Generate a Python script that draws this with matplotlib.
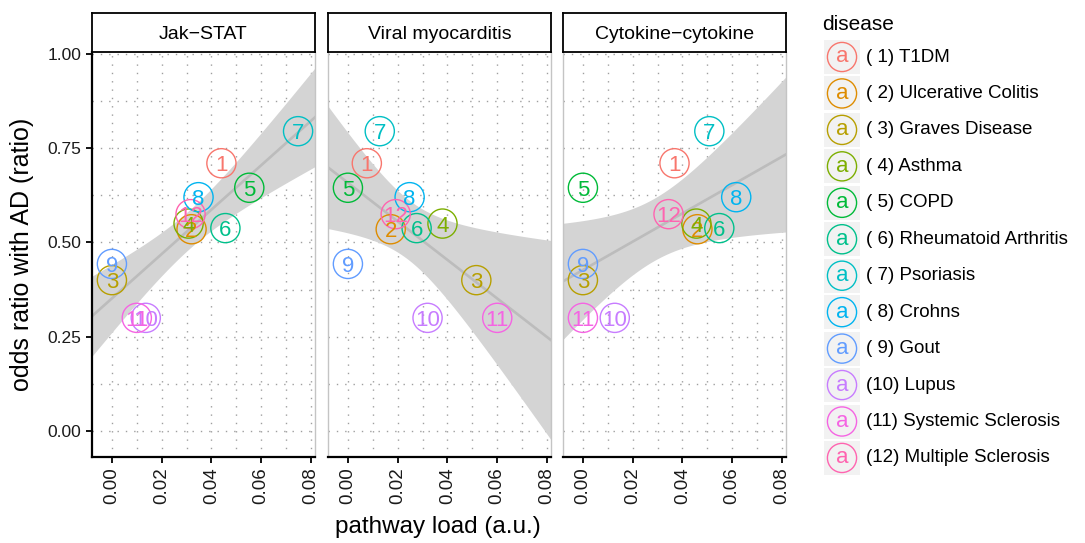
import numpy as np
import matplotlib
matplotlib.use('Agg')
import matplotlib.pyplot as plt
from matplotlib.patches import Rectangle

plt.rcParams['font.family'] = ['Liberation Sans', 'DejaVu Sans']

# data
pathways = ['Jak\u2212STAT', 'Viral myocarditis', 'Cytokine\u2212cytokine']
diseases = ['T1DM', 'Ulcerative Colitis', 'Graves Disease', 'Asthma', 'COPD',
            'Rheumatoid Arthritis', 'Psoriasis', 'Crohns', 'Gout', 'Lupus',
            'Systemic Sclerosis', 'Multiple Sclerosis']
odds_ratio = [0.71, 0.535, 0.40, 0.55, 0.645, 0.538, 0.795, 0.62, 0.443, 0.30, 0.30, 0.575]
load_jak = [0.044, 0.032, 0.0, 0.0308, 0.0552, 0.0456, 0.0748, 0.0348, 0.0, 0.0136, 0.010, 0.0316]
load_viral = [0.0076, 0.0172, 0.0516, 0.038, 0.0, 0.0276, 0.0128, 0.0248, 0.0, 0.032, 0.060, 0.0192]
load_cyto = [0.0368, 0.046, 0.0, 0.0456, 0.0, 0.0548, 0.0508, 0.0616, 0.0, 0.0128, 0.0, 0.0344]
loads = [load_jak, load_viral, load_cyto]

colors = ['#F8766D', '#DE8C00', '#B79F00', '#7CAE00', '#00BA38', '#00C08B',
          '#00BFC4', '#00B4F0', '#619CFF', '#C77CFF', '#F564E3', '#FF64B0']

W, H = 1085, 543
fig = plt.figure(figsize=(W / 100, H / 100), dpi=100)

panel_left = [92, 328, 563]
pw = 223
ptop, pbot = 52, 457
xlim = (-0.008, 0.0816)
ylim = (-0.069, 1.005)
t975 = 2.228  # t quantile, df = 10
grid_ls = (0, (1, 5))
ms = 21

y = np.array(odds_ratio)
for i, (name, xl) in enumerate(zip(pathways, loads)):
    x = np.array(xl)
    left = panel_left[i]
    ax = fig.add_axes([left / W, 1 - pbot / H, pw / W, (pbot - ptop) / H])
    ax.set_xlim(*xlim)
    ax.set_ylim(*ylim)
    ax.set_xticks([0, 0.02, 0.04, 0.06, 0.08])
    ax.set_xticks([0.01, 0.03, 0.05, 0.07], minor=True)
    ax.set_yticks([0, 0.25, 0.5, 0.75, 1.0])
    ax.set_yticks([0.125, 0.375, 0.625, 0.875], minor=True)
    ax.grid(which='both', color='#9f9f9f', ls=grid_ls, lw=1.0)
    ax.set_axisbelow(True)
    ax.tick_params(which='minor', length=0)
    ax.tick_params(which='major', length=4, width=1.3, color='black', labelcolor='#1a1a1a')
    ax.tick_params(axis='x', labelsize=13.5)
    ax.tick_params(axis='y', labelsize=12.5)
    ax.set_xticklabels(['%.2f' % v for v in ax.get_xticks()], rotation=90)
    if i == 0:
        ax.set_yticklabels(['%.2f' % v for v in ax.get_yticks()])
        ax.spines['left'].set_color('black')
        ax.spines['left'].set_linewidth(1.6)
    else:
        ax.tick_params(axis='y', length=0, labelleft=False)
        ax.spines['left'].set_color('#c4c4c4')
        ax.spines['left'].set_linewidth(1.0)
    ax.spines['right'].set_color('#c4c4c4')
    ax.spines['right'].set_linewidth(1.0)
    ax.spines['top'].set_visible(False)
    ax.spines['bottom'].set_color('black')
    ax.spines['bottom'].set_linewidth(1.6)

    # linear fit with 95% confidence band
    n = len(x)
    b, a = np.polyfit(x, y, 1)
    resid = y - (a + b * x)
    s = np.sqrt(np.sum(resid ** 2) / (n - 2))
    xs = np.linspace(xlim[0], xlim[1], 200)
    fit = a + b * xs
    se = s * np.sqrt(1 / n + (xs - x.mean()) ** 2 / np.sum((x - x.mean()) ** 2))
    ax.fill_between(xs, fit - t975 * se, fit + t975 * se, color='#d4d4d4', lw=0, zorder=1)
    ax.plot(xs, fit, color='#bcbcbc', lw=1.9, zorder=2)

    ax.scatter(x, y, s=ms ** 2, facecolors='none', edgecolors=colors, linewidths=1.0, zorder=3)
    for k in range(n):
        ax.text(x[k], y[k], str(k + 1), color=colors[k], fontsize=16,
                ha='center', va='center_baseline', zorder=4)

    sax = fig.add_axes([left / W, 1 - ptop / H, pw / W, 39 / H])
    sax.set_xticks([])
    sax.set_yticks([])
    for sp in sax.spines.values():
        sp.set_color('black')
        sp.set_linewidth(1.3)
    sax.text(0.5, 0.45, name, ha='center', va='center', fontsize=14, transform=sax.transAxes)

fig.text(438 / W, 1 - 527 / H, 'pathway load (a.u.)', ha='center', va='center', fontsize=17.5)
fig.text(22 / W, 1 - 254 / H, 'odds ratio with AD (ratio)', ha='center', va='center',
         rotation=90, fontsize=18)

# legend
lax = fig.add_axes([0, 0, 1, 1])
lax.set_xlim(0, W)
lax.set_ylim(H, 0)
lax.axis('off')
lax.text(822, 30, 'disease', fontsize=15, va='baseline', ha='left')
for k, name in enumerate(diseases):
    yc = 57 + k * 36.45
    lax.add_patch(Rectangle((824, yc - 17), 36, 34, color='#f2f2f2', lw=0))
    lax.scatter([842], [yc], s=ms ** 2, facecolors='none', edgecolors=colors[k], linewidths=1.0)
    lax.text(842, yc, 'a', color=colors[k], fontsize=16, ha='center', va='center')
    lax.text(866, yc, '(%2d) %s' % (k + 1, name), fontsize=13.5, ha='left', va='center')

fig.savefig('out.png', dpi=100)
